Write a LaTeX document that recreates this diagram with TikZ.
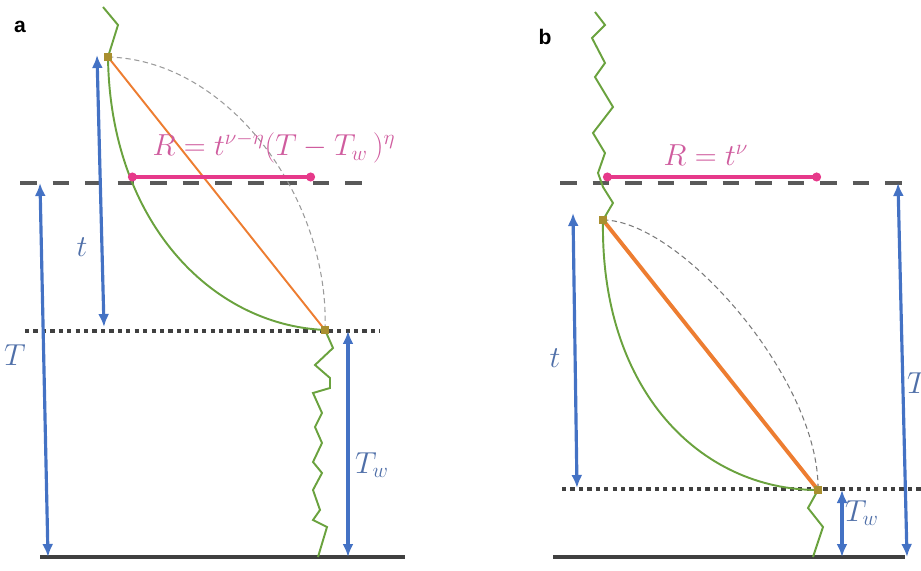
\documentclass[tikz,border=0pt]{standalone}
\usepackage{fontspec}
\setsansfont{Liberation Sans}
\usetikzlibrary{arrows.meta}

\definecolor{spanblue}{HTML}{4472C4}
\definecolor{labelblue}{HTML}{4F6FA8}
\definecolor{barpink}{HTML}{E6398A}
\definecolor{textpink}{HTML}{CF5C9E}
\definecolor{pathgreen}{HTML}{6AA23E}
\definecolor{chordorange}{HTML}{ED7D31}
\definecolor{knotbrown}{HTML}{A98F2F}
\definecolor{levelgray}{HTML}{595959}
\definecolor{basegray}{HTML}{404040}

\begin{document}
\begin{tikzpicture}[>={Latex[length=2.6mm,width=2.2mm]},
    span/.style={<->, draw=spanblue, line width=1.8pt},
    lbl/.style={text=labelblue, font=\LARGE},
    panel/.style={font=\sffamily\bfseries\large},
    bar/.style={{Circle[length=5pt]}-{Circle[length=5pt]}, draw=barpink, line width=2.2pt},
    formula/.style={text=textpink, font=\LARGE},
    walk/.style={draw=pathgreen, line width=1.1pt},
    guess/.style={draw=levelgray!60, line width=0.6pt, dash pattern=on 3pt off 2pt},
    level/.style={draw=levelgray, line width=2.3pt, dash pattern=on 9.5pt off 9pt},
    wait/.style={draw=basegray, line width=2.2pt, dash pattern=on 2.4pt off 2.4pt},
    base/.style={draw=basegray, line width=2.2pt},
    knot/.style={rectangle, fill=knotbrown, inner sep=0pt, minimum size=4pt}]

    \useasboundingbox (0,0) rectangle (18.42,11.4);
    \clip (0,0) rectangle (18.42,11.4);

    % --- Panel a on the left ---
    \node[panel] (pa) at (0.4,10.86) {a};

    % horizontal levels
    \draw[level] (0.4,7.74) -- (7.46,7.74);
    \draw[wait] (0.5,4.78) -- (7.6,4.78);
    \draw[base] (0.8,0.26) -- (8.1,0.26);

    % ends of the jump
    \coordinate (a0) at (2.16,10.26);
    \coordinate (a1) at (6.5,4.8);

    % walk before and after the jump
    \draw[walk] (2.06,11.26) -- (2.36,10.9) -- (a0);
    \draw[walk] (a1) -- (6.66,4.44) -- (6.3,4.1) -- (6.6,3.84) -- (6.6,3.64)
        -- (6.26,3.54) -- (6.44,3.14) -- (6.3,2.86) -- (6.44,2.54) -- (6.26,2.16)
        -- (6.44,1.94) -- (6.26,1.6) -- (6.4,1.2) -- (6.26,1.0) -- (6.54,0.86)
        -- (6.36,0.26);

    % the jump itself
    \draw[guess] (a0) .. controls (4.6,10.2) and (6.6,7.4) .. (a1);
    \draw[walk] (a0) .. controls (2.2,7.0) and (4.2,4.9) .. (a1);
    \draw[draw=chordorange, line width=1.1pt] (a0) -- (a1);
    \node[knot] (ka0) at (a0) {};
    \node[knot] (ka1) at (a1) {};

    % range of the jump
    \coordinate (ra0) at (2.56,7.86);
    \coordinate (ra1) at (6.3,7.86);
    \draw[bar] (ra0) -- (ra1);
    \node[formula] (fa) at (5.48,8.44) {$R=t^{\nu-\eta}(T-T_w\,)^{\eta}$};

    % spans of time
    \coordinate (ta0) at (1.94,10.3);
    \coordinate (ta1) at (2.08,4.86);
    \draw[span] (ta0) -- (ta1);
    \node[lbl] (lta) at (1.64,6.46) {$t$};

    \coordinate (Ta0) at (0.8,7.74);
    \coordinate (Ta1) at (0.96,0.26);
    \draw[span] (Ta0) -- (Ta1);
    \node[lbl] (lTa) at (0.3,4.3) {$T$};

    \coordinate (wa0) at (6.96,4.78);
    \coordinate (wa1) at (6.96,0.26);
    \draw[span] (wa0) -- (wa1);
    \node[lbl] (lwa) at (7.44,2.1) {$T_w$};

    % --- Panel b on the right ---
    \node[panel] (pb) at (10.9,10.66) {b};

    % horizontal levels
    \draw[level] (11.2,7.74) -- (18.2,7.74);
    \draw[wait] (11.24,1.62) -- (18.5,1.62);
    \draw[base] (11.06,0.26) -- (18.1,0.26);

    % ends of the jump
    \coordinate (b0) at (12.06,7.0);
    \coordinate (b1) at (16.36,1.6);

    % walk before and after the jump
    \draw[walk] (11.9,11.16) -- (12.1,10.9) -- (11.84,10.64) -- (12.1,10.14)
        -- (11.9,9.86) -- (12.26,9.26) -- (11.86,8.74) -- (12.1,8.34)
        -- (11.96,7.94) -- (12.06,7.66) -- (12.26,7.34) -- (b0);
    \draw[walk] (b1) -- (16.16,1.24) -- (16.46,0.86) -- (16.26,0.26);

    % the jump itself
    \draw[guess, draw=levelgray!80] (b0) .. controls (13.6,7.0) and (16.4,3.8) .. (b1);
    \draw[walk] (b0) .. controls (12.0,3.6) and (14.0,1.6) .. (b1);
    \draw[draw=chordorange, line width=2.2pt] (b0) -- (b1);
    \node[knot] (kb0) at (b0) {};
    \node[knot] (kb1) at (b1) {};

    % range of the walk
    \coordinate (rb0) at (12.06,7.86);
    \coordinate (rb1) at (16.42,7.86);
    \draw[bar] (rb0) -- (rb1);
    \node[formula] (fb) at (14.12,8.3) {$R=t^{\nu}$};

    % spans of time
    \coordinate (tb0) at (11.46,7.14);
    \coordinate (tb1) at (11.54,1.64);
    \draw[span] (tb0) -- (tb1);
    \node[lbl] (ltb) at (11.1,4.24) {$t$};

    \coordinate (Tb0) at (17.96,7.74);
    \coordinate (Tb1) at (18.14,0.26);
    \draw[span] (Tb0) -- (Tb1);
    \node[lbl] (lTb) at (18.36,3.74) {$T$};

    \coordinate (wb0) at (16.84,1.6);
    \coordinate (wb1) at (16.84,0.26);
    \draw[span] (wb0) -- (wb1);
    \node[lbl] (lwb) at (17.24,1.14) {$T_w$};
\end{tikzpicture}
\end{document}
